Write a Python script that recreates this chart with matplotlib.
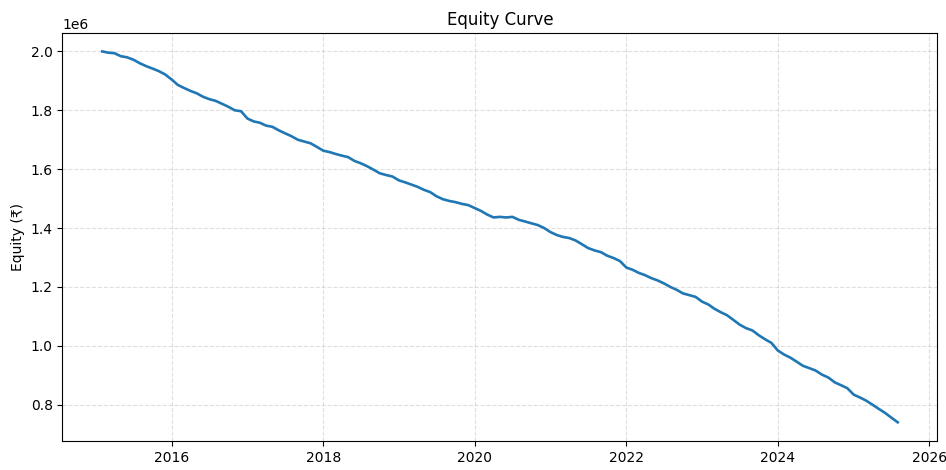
import pandas as pd
import matplotlib.pyplot as plt

# month-end equity values (in millions of rupees)
months = pd.date_range('2015-02-01', '2025-08-01', freq='MS')
equity_m = [
    2.000, 1.996, 1.994, 1.984, 1.980, 1.972, 1.960, 1.950, 1.942, 1.933, 1.922,
    1.905, 1.886, 1.876, 1.866, 1.858, 1.846, 1.838, 1.832, 1.822, 1.812, 1.800, 1.797,
    1.772, 1.762, 1.758, 1.748, 1.744, 1.732, 1.722, 1.712, 1.700, 1.694, 1.688, 1.676,
    1.663, 1.658, 1.652, 1.646, 1.641, 1.628, 1.620, 1.610, 1.598, 1.586, 1.580, 1.575,
    1.562, 1.555, 1.548, 1.540, 1.530, 1.522, 1.508, 1.498, 1.492, 1.488, 1.482, 1.478,
    1.468, 1.458, 1.446, 1.436, 1.438, 1.436, 1.438, 1.428, 1.422, 1.416, 1.410, 1.400,
    1.386, 1.376, 1.370, 1.366, 1.358, 1.345, 1.332, 1.324, 1.318, 1.306, 1.298, 1.288,
    1.266, 1.258, 1.248, 1.240, 1.230, 1.222, 1.212, 1.200, 1.190, 1.178, 1.172, 1.166,
    1.150, 1.140, 1.126, 1.114, 1.104, 1.088, 1.072, 1.060, 1.052, 1.036, 1.022, 1.010,
    0.984, 0.970, 0.960, 0.946, 0.932, 0.924, 0.916, 0.902, 0.892, 0.876, 0.866, 0.856,
    0.834, 0.824, 0.814, 0.800, 0.786, 0.772, 0.756, 0.740,
]
equity = [v * 1e6 for v in equity_m]

fig, ax = plt.subplots(figsize=(9.46, 4.70), dpi=100)
ax.plot(months, equity, color='#1f77b4', linewidth=1.9)
ax.set_title('Equity Curve')
ax.set_ylabel('Equity (₹)')
ax.grid(True, linestyle='--', alpha=0.4)
plt.subplots_adjust(left=0.066, right=0.991, top=0.93, bottom=0.062)
plt.savefig('out.png', dpi=100)
plt.close()
